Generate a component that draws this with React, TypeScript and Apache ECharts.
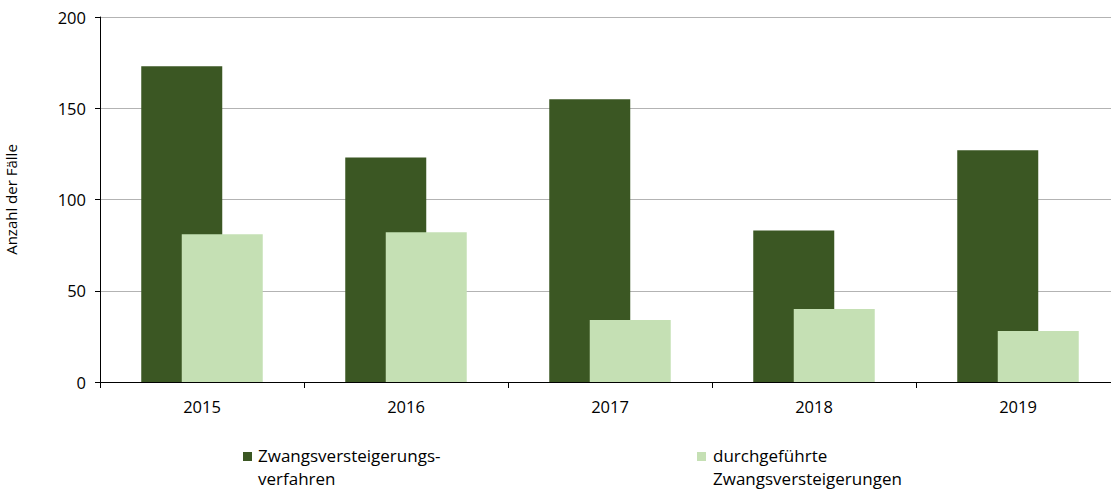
import React, { useEffect, useRef } from "react";
import * as echarts from "echarts";

const categories = ["2015", "2016", "2017", "2018", "2019"];
const seriesNames = ["Zwangsversteigerungs-\nverfahren", "durchgeführte\nZwangsversteigerungen"];
const verfahren = [173, 123, 155, 83, 127];
const durchgefuehrt = [81, 82, 34, 40, 28];
const colors = ["#3b5723", "#c5e0b4"];
const yTicks = [0, 50, 100, 150, 200];

export default function App() {
  const ref = useRef<HTMLDivElement>(null);
  useEffect(() => {
    if (!ref.current) return;
    const chart = echarts.init(ref.current, null, { renderer: "svg" });
    const font = "'Open Sans', Lato, sans-serif";
    chart.setOption({
      animation: false,
      grid: { left: 100, width: 1020, top: 17, height: 365, outerBoundsMode: "none", containLabel: false },
      xAxis: {
        type: "category",
        data: categories,
        axisLine: { lineStyle: { color: "#000", width: 1 } },
        axisTick: { show: true, length: 6, lineStyle: { color: "#000" } },
        axisLabel: { color: "#000", fontSize: 16.5, fontFamily: font, margin: 16 },
      },
      yAxis: {
        type: "value",
        min: yTicks[0],
        max: yTicks[yTicks.length - 1],
        interval: 50,
        name: "Anzahl der Fälle",
        nameLocation: "middle",
        nameGap: 81,
        nameTextStyle: { color: "#000", fontSize: 15, fontFamily: font, lineHeight: 16 },
        axisLine: { show: true, lineStyle: { color: "#000", width: 1 } },
        axisTick: { show: true, length: 5, lineStyle: { color: "#000" } },
        axisLabel: { color: "#000", fontSize: 16.5, fontFamily: font, margin: 14 },
        splitLine: { lineStyle: { color: "#b3b3b3", width: 1 } },
      },
      series: [
        {
          name: seriesNames[0],
          type: "bar",
          data: verfahren,
          barWidth: 81,
          barGap: "-50%",
          itemStyle: { color: colors[0] },
        },
        {
          name: seriesNames[1],
          type: "bar",
          data: durchgefuehrt,
          barWidth: 81,
          barGap: "-50%",
          itemStyle: { color: colors[1] },
        },
      ],
      graphic: [
        { type: "rect", left: 243, top: 452, shape: { width: 9, height: 9 }, style: { fill: colors[0] } },
        {
          type: "text",
          left: 258,
          top: 444,
          style: { text: seriesNames[0], fill: "#000", fontSize: 17, fontFamily: font, lineHeight: 23 },
        },
        { type: "rect", left: 697, top: 452, shape: { width: 9, height: 9 }, style: { fill: colors[1] } },
        {
          type: "text",
          left: 713,
          top: 444,
          style: { text: seriesNames[1], fill: "#000", fontSize: 17, fontFamily: font, lineHeight: 23 },
        },
      ],
    });
    return () => chart.dispose();
  }, []);
  return (
    <div
      ref={ref}
      style={{ position: "absolute", left: 0, top: 0, width: 1111, height: 490, background: "#fff" }}
    />
  );
}
